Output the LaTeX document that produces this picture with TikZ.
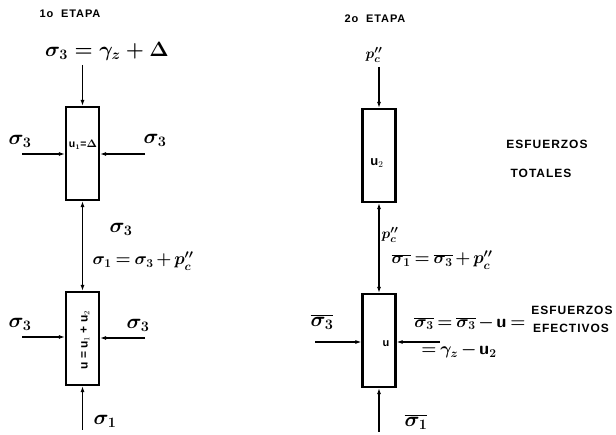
\documentclass[tikz,border=0pt]{standalone}
\usepackage{fontspec}
\newfontfamily\capsfont{Liberation Sans}[LetterSpace=8]
\newfontfamily\boxfont{Liberation Sans}
\usetikzlibrary{arrows.meta}
\newcommand\tightmath{\thickmuskip=3.5mu\medmuskip=2.5mu}
\begin{document}
\begin{tikzpicture}[x=1pt,y=-1pt,
  box/.style={draw, line width=2.2pt, minimum width=33pt, minimum height=93pt, inner sep=0pt},
  arr/.style={line width=1.1pt, -{Latex[length=6pt,width=4pt]}},
  darr/.style={line width=1.1pt, {Latex[length=6pt,width=4pt]}-{Latex[length=6pt,width=4pt]}},
  sig/.style={font=\fontsize{22}{24}\selectfont\boldmath, inner sep=0pt},
  eq/.style={font=\fontsize{20}{24}\selectfont\boldmath, inner sep=0pt},
  eqn/.style={font=\fontsize{17.5}{21}\selectfont\boldmath\tightmath, inner sep=0pt},
  eqm/.style={font=\fontsize{18}{22}\selectfont\boldmath\tightmath, inner sep=0pt},
  eqs/.style={font=\fontsize{15}{18}\selectfont\boldmath, inner sep=0pt},
  captext/.style={font=\capsfont\bfseries\fontsize{12}{14}\selectfont, inner sep=0pt},
  stage/.style={font=\capsfont\bfseries\fontsize{11}{13}\selectfont, inner sep=0pt},
  btxt/.style={font=\boxfont\bfseries\fontsize{10.5}{12}\selectfont\boldmath, inner sep=0pt},
]
\useasboundingbox (0,0) rectangle (616,435);
% ---------- 1a etapa ----------
\node[stage] (s1) at (70,14) {1o\ \ ETAPA};
\node[eq] (e1) at (107,51) {$\sigma_3=\gamma_z+\Delta$};
\node[box] (b1) at (82.5,153.5) {};
\node[box] (b2) at (82.5,338.5) {};
\node[btxt] (t1) at (83,145) {u$_1$=$\Delta$};
\node[btxt, rotate=90, font=\boxfont\bfseries\fontsize{12}{14}\selectfont] (t2) at (85,340) {u = u$_1$ + u$_2$};
\coordinate (c1) at (82.5,65);
\draw[arr] (c1) -- (b1.north);
\node[sig] (l1) at (20,141) {$\sigma_3$};
\coordinate (a1) at (22,154);
\draw[arr] (a1) -- (a1 -| b1.west);
\node[sig] (r1) at (155,140) {$\sigma_3$};
\coordinate (a2) at (145,154);
\draw[arr] (a2) -- (a2 -| b1.east);
\draw[darr] (b1.south) -- (b2.north);
\node[sig] (m1) at (121,229) {$\sigma_3$};
\node[eqn] (e2) at (143,261) {$\sigma_1=\sigma_3+p_c''$};
\node[sig] (l2) at (20,324) {$\sigma_3$};
\coordinate (a3) at (22,337);
\draw[arr] (a3) -- (a3 -| b2.west);
\node[sig] (r2) at (138,325) {$\sigma_3$};
\coordinate (a4) at (145,338);
\draw[arr] (a4) -- (a4 -| b2.east);
\coordinate (c2) at (82.5,430);
\draw[arr] (c2) -- (b2.south);
\node[sig] (d1) at (105,421) {$\sigma_1$};
% ---------- 2a etapa ----------
\node[stage] (s2) at (375,19) {2o\ \ ETAPA};
\node[eqs] (p1) at (374,55) {$p_c''$};
\node[box] (b3) at (379,155.5) {};
\node[box] (b4) at (379,340.5) {};
\node[btxt, font=\boxfont\bfseries\fontsize{13}{15}\selectfont] (t3) at (377,163) {u$_2$};
\node[btxt, font=\boxfont\bfseries\fontsize{11}{13}\selectfont] (t4) at (386,344) {u};
\coordinate (c3) at (379,67);
\draw[arr] (c3) -- (b3.north);
\draw[darr] (b3.south) -- (b4.north);
\node[eqs] (p2) at (390,235) {$p_c''$};
\node[eqn] (e3) at (442,260) {$\overline{\sigma_1}=\overline{\sigma_3}+p_c''$};
\node[sig] (l3) at (322,322) {$\overline{\sigma_3}$};
\coordinate (a5) at (315,342);
\draw[arr] (a5) -- (a5 -| b4.west);
\coordinate (a6) at (440,342);
\draw[arr] (a6) -- (a6 -| b4.east);
\node[eqm] (e4) at (470,323) {$\overline{\sigma_3}=\overline{\sigma_3}-\mathsf{u}=$};
\node[eqm] (e5) at (459,351) {$=\gamma_z-\mathsf{u}_2$};
\coordinate (c4) at (379,432);
\draw[arr] (c4) -- (b4.south);
\node[sig] (d2) at (416,422) {$\overline{\sigma_1}$};
\node[captext] (k1) at (547,144) {ESFUERZOS};
\node[captext] (k2) at (541,173) {TOTALES};
\node[captext] (k3) at (572,310) {ESFUERZOS};
\node[captext] (k4) at (571,328) {EFECTIVOS};
\end{tikzpicture}
\end{document}
